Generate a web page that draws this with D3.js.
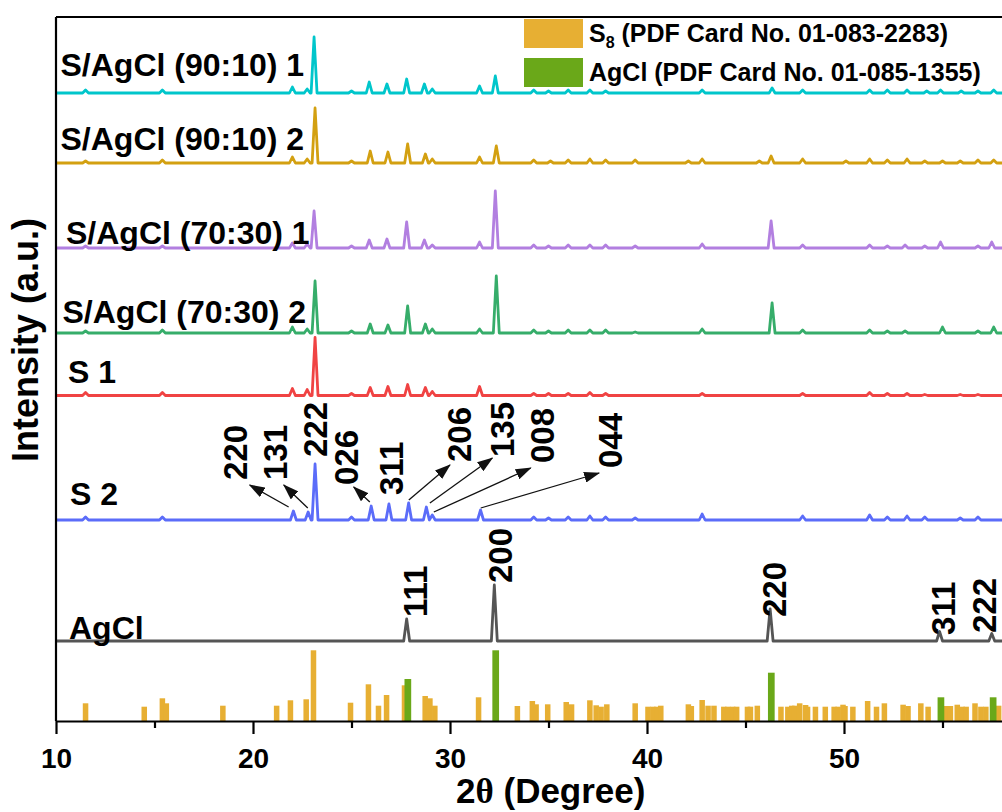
<!DOCTYPE html>
<html>
<head>
<meta charset="utf-8">
<script src="https://d3js.org/d3.v7.min.js"></script>
<style>
  body { margin: 0; background: #fff; }
  text { font-family: Arial, "Liberation Sans", sans-serif; font-weight: bold; fill: #000; }
</style>
</head>
<body>
<div id="chart"></div>
<script>
// ---- data ----
var names   = ["S/AgCl (90:10) 1", "S/AgCl (90:10) 2", "S/AgCl (70:30) 1", "S/AgCl (70:30) 2", "S 1", "S 2", "AgCl"];
var colors  = ["#00c6cb", "#d3a011", "#b27fe0", "#36ad6a", "#f04343", "#5b6cf9", "#555555"];
var offsets = [628, 558, 473, 388, 325.5, 201, 80];   // stacking offset of each pattern (a.u.)

// peaks of each pattern: [2theta, intensity above its baseline]
var pk90_1 = [[11.5,3],[15.4,3],[22.0,6],[22.75,4],[23.1,56],[25.0,2],[25.9,11],[26.8,9],[27.8,14],[28.7,9],[29.1,4],[31.5,7],[32.3,17],
  [34.25,3],[35.0,2],[36.0,3],[37.1,3],[37.9,2],[42.8,3],[46.35,5],[47.9,3],[51.3,3],[52.2,3],[53.2,3],[54.2,2],[54.9,3],[55.95,2],[56.8,2],[57.6,3]];
var pk90_2 = [[11.5,2],[15.4,3],[22.0,6],[22.75,4],[23.15,55],[25.0,2],[25.95,12],[26.85,11],[27.85,19],[28.75,9],[29.1,4],[31.5,6],[32.35,17],
  [34.25,3],[35.1,2],[36.0,3],[37.1,4],[37.9,3],[39.4,3],[42.1,2],[42.8,4],[45.7,2],[46.3,7],[47.9,4],[50.1,2],[51.3,4],[52.2,3],[53.2,4],[54.1,2],[55.0,2],[55.9,2],[56.8,3],[57.6,3]];
var pk70_1 = [[11.5,2],[15.4,2],[22.0,5],[22.75,4],[23.1,37],[25.0,2],[25.9,8],[26.8,9],[27.8,26],[28.7,8],[29.1,3],[31.5,6],[32.3,57],
  [34.25,3],[35.0,2],[36.0,3],[37.1,3],[37.9,3],[39.4,2],[42.8,4],[46.3,27],[47.9,3],[51.3,3],[52.2,2],[53.1,3],[54.1,2],[54.9,6],[56.8,2],[57.5,6]];
var pk70_2 = [[11.5,2],[15.4,3],[22.0,6],[22.75,4],[23.15,52],[25.0,2],[25.95,9],[26.85,8],[27.85,27],[28.75,9],[29.1,4],[31.5,4],[32.35,57],
  [34.25,3],[35.0,2],[36.0,3],[37.1,3],[37.9,3],[39.4,1],[42.8,4],[46.35,30],[47.9,3],[51.3,3],[52.2,2],[53.1,2],[55.0,6],[56.8,2],[57.6,6]];
var pkS1 = [[11.5,3],[15.4,3],[22.0,7],[22.75,6],[23.15,58],[25.0,2],[25.95,8],[26.85,9],[27.85,11],[28.75,8],[29.1,4],[31.5,9],
  [34.25,2],[35.0,2],[36.0,2],[37.1,3],[37.9,2],[42.8,2],[47.9,2],[51.3,3],[52.2,2],[53.2,2],[54.1,1],[55.9,1],[56.8,1]];
var pkS2 = [[11.5,3],[15.4,3],[22.05,9],[22.8,8],[23.15,56],[25.0,3],[26.0,14],[26.9,16],[27.9,17],[28.8,13],[29.1,5],[31.55,10],
  [34.25,3],[35.0,2],[36.0,3],[37.1,4],[37.9,3],[39.4,2],[42.8,6],[47.9,4],[51.3,5],[52.2,3],[53.2,4],[54.1,3],[55.9,2],[56.8,3]];
var pkAgCl = [[27.8,22],[32.25,56],[46.25,32],[54.85,9.5],[57.5,7.5]];
var patterns = [pk90_1, pk90_2, pk70_1, pk70_2, pkS1, pkS2, pkAgCl];

// reference cards
var s8Ref = [[11.5,17.7],[14.48,14.3],[15.4,22.7],[15.6,17.7],[18.47,15.3],[21.2,15.3],[21.9,20.7],[22.7,21.7],[23.07,70.7],[24.95,18.3],
  [25.86,36.7],[26.37,15.3],[26.78,26],[27.69,35.7],[28.74,25],[28.98,22.7],[29.23,15.3],[31.45,23.7],[33.42,15],[34.18,20],[34.37,16.7],
  [34.96,16.7],[35.9,19],[36.17,16.7],[37.1,20.7],[37.42,15.7],[37.67,14.3],[37.96,16.7],[39.4,17.7],[40.05,14.3],[40.3,14.3],[40.5,14.3],
  [40.7,15.3],[42.1,16.7],[42.25,15],[42.8,21],[43.1,15.3],[43.4,15.3],[43.9,14.3],[44.1,14.3],[44.35,14.3],[44.55,14.3],[45.1,14.3],
  [45.25,14.3],[45.6,15.3],[46.8,14.3],[47.15,14.3],[47.35,15.3],[47.5,15.3],[47.75,17.7],[48.05,16],[48.15,14.3],[48.55,14.3],[49.05,14.3],
  [49.5,14.3],[49.7,14.3],[49.95,16.3],[50.05,15],[50.45,14.3],[51.2,20],[51.65,14.3],[52.05,17.7],[53.0,16.3],[53.25,15],[53.9,17.7],
  [54.27,14.3],[55.15,15],[55.4,15],[55.75,16.3],[56.0,14.3],[56.2,14.3],[56.65,17.7],[56.95,14.3],[57.2,14.3],[57.85,15.3]];
var agclRef = [[27.86,42],[32.32,70.7],[46.31,48.3],[54.92,23.7],[57.57,23.7]];

// annotations (2theta, a.u.)
var hklS2 = ["220","131","222","026","311","206","135","008","044"];
var hklS2Pos = [[19.71,241],[21.74,241],[23.78,264],[25.35,236],[27.59,226],[31.05,259],[33.23,264],[35.27,258],[38.72,253]];
var arrowTail = [[21.81,214],[22.78,213],[25.93,219],null,null,[27.91,221],[28.98,218],[29.18,209],[31.56,213]];
var arrowHead = [[19.83,236],[21.56,236],[25.11,234],null,null,[30.0,256],[32.15,263],[34.1,253],[37.57,248]];
var hklAgCl = ["111","200","220","311","222"];
var hklAgClPos = [[28.81,104],[33.13,138],[47.06,104],[55.65,86],[57.72,88]];

var xTicks = [10, 20, 30, 40, 50];
var xMinor = [15, 25, 35, 45, 55];

// ---- layout ----
var W = 1002, H = 812;
var svg = d3.select("#chart").append("svg").attr("width", W).attr("height", H);

var x = d3.scaleLinear().domain([10, 60]).range([56, 56 + 50 * 19.7]);
var y = d3.scaleLinear().domain([0, 704]).range([721, 17]);

// reference bars
var base = y(0);
svg.append("g").selectAll("rect").data(s8Ref).enter().append("rect")
  .attr("x", function(d) { return x(d[0] - 0.14); })
  .attr("width", x(10.28) - x(10))
  .attr("y", function(d) { return y(d[1]); })
  .attr("height", function(d) { return base - y(d[1]); })
  .attr("fill", "#e7af33");
svg.append("g").selectAll("rect").data(agclRef).enter().append("rect")
  .attr("x", function(d) { return x(d[0] - 0.17); })
  .attr("width", x(10.34) - x(10))
  .attr("y", function(d) { return y(d[1]); })
  .attr("height", function(d) { return base - y(d[1]); })
  .attr("fill", "#6aa819");

// patterns
function profile(pk) {
  var pts = [[10, 0]];
  pk.forEach(function(p) {
    pts.push([p[0] - 0.15, 0], [p[0], p[1]], [p[0] + 0.15, 0]);
  });
  pts.push([60, 0]);
  return pts;
}
patterns.forEach(function(pk, i) {
  var line = d3.line()
    .x(function(d) { return x(d[0]); })
    .y(function(d) { return y(offsets[i] + d[1]); });
  svg.append("path").datum(profile(pk))
    .attr("d", line)
    .attr("fill", "none")
    .attr("stroke", colors[i])
    .attr("stroke-width", 2.8)
    .attr("stroke-linejoin", "round");
});

// series labels
var labX = [60.5, 60.5, 66, 62.5, 68, 70, 69];
var labDy = [-17, -13, -4, -10, -13, -15, -2];
svg.append("g").selectAll("text").data(names).enter().append("text")
  .attr("x", function(d, i) { return labX[i]; })
  .attr("y", function(d, i) { return y(offsets[i]) + labDy[i]; })
  .attr("font-size", 32)
  .text(function(d) { return d; });

// arrows
svg.append("defs").append("marker")
  .attr("id", "ah").attr("markerUnits", "userSpaceOnUse")
  .attr("markerWidth", 16).attr("markerHeight", 11)
  .attr("refX", 15).attr("refY", 5.5).attr("orient", "auto")
  .append("path").attr("d", "M0,0L16,5.5L0,11Z").attr("fill", "#111");
arrowTail.forEach(function(t, i) {
  if (!t) return;
  var h = arrowHead[i];
  svg.append("line")
    .attr("x1", x(t[0])).attr("y1", y(t[1]))
    .attr("x2", x(h[0])).attr("y2", y(h[1]))
    .attr("stroke", "#111").attr("stroke-width", 1.3)
    .attr("marker-end", "url(#ah)");
});

// hkl labels
function vlabels(lbls, pos) {
  svg.append("g").selectAll("text").data(lbls).enter().append("text")
    .attr("transform", function(d, i) {
      return "translate(" + x(pos[i][0]) + "," + y(pos[i][1]) + ") rotate(-90)";
    })
    .attr("font-size", 33)
    .text(function(d) { return d; });
}
vlabels(hklS2, hklS2Pos);
vlabels(hklAgCl, hklAgClPos);

// axes
var gx = svg.append("g").attr("transform", "translate(0," + y(0) + ")")
  .call(d3.axisBottom(x).tickValues(xTicks).tickSize(13).tickSizeOuter(0).tickPadding(14).tickFormat(d3.format("d")));
gx.select(".domain").attr("stroke-width", 2.2);
gx.selectAll(".tick line").attr("stroke-width", 2.2);
gx.selectAll(".tick text").attr("font-size", 28).attr("font-family", "Arial, 'Liberation Sans', sans-serif").attr("font-weight", "bold");
var gm = svg.append("g").attr("transform", "translate(0," + y(0) + ")")
  .call(d3.axisBottom(x).tickValues(xMinor).tickSize(7).tickSizeOuter(0).tickFormat(""));
gm.select(".domain").remove();
gm.selectAll(".tick line").attr("stroke-width", 2.2);

// frame: left and top
svg.append("line").attr("x1", x(10)).attr("x2", x(10)).attr("y1", y(704)).attr("y2", y(0))
  .attr("stroke", "#000").attr("stroke-width", 2.2);
svg.append("line").attr("x1", x(10)).attr("x2", W).attr("y1", y(704)).attr("y2", y(704))
  .attr("stroke", "#000").attr("stroke-width", 2.2);

// axis titles
var xt = svg.append("text").attr("x", 456).attr("y", 803).attr("font-size", 35);
xt.append("tspan").text("2");
xt.append("tspan").attr("font-family", "'Times New Roman', 'Liberation Serif', serif").text("\u03b8");
xt.append("tspan").text(" (Degree)");
svg.append("text")
  .attr("transform", "translate(38,462) rotate(-90)")
  .attr("font-size", 36)
  .text("Intensity (a.u.)");

// legend
var leg = svg.append("g");
leg.append("rect").attr("x", 524).attr("y", 19).attr("width", 59).attr("height", 29).attr("fill", "#e7af33");
leg.append("rect").attr("x", 524).attr("y", 58).attr("width", 59).attr("height", 29).attr("fill", "#6aa819");
var l1 = leg.append("text").attr("x", 589).attr("y", 42).attr("font-size", 25);
l1.append("tspan").text("S");
l1.append("tspan").attr("font-size", 16).attr("dy", 6).text("8");
l1.append("tspan").attr("dy", -6).text(" (PDF Card No. 01-083-2283)");
leg.append("text").attr("x", 589).attr("y", 81).attr("font-size", 25).text("AgCl (PDF Card No. 01-085-1355)");
</script>
</body>
</html>
